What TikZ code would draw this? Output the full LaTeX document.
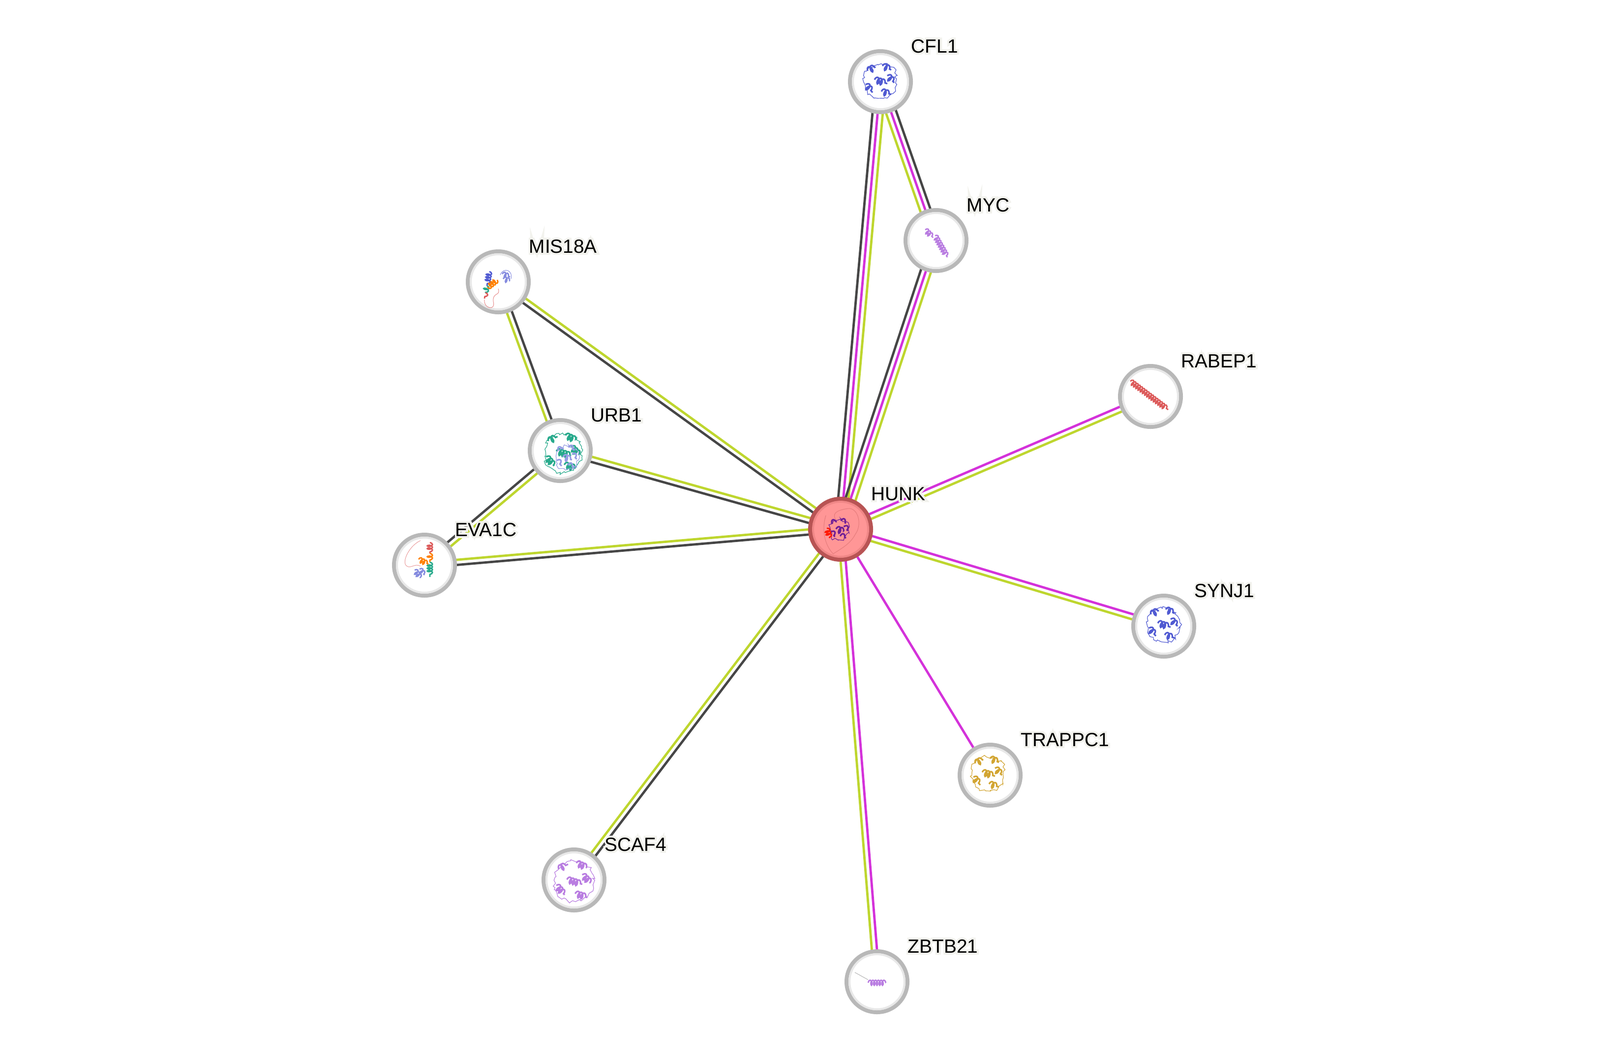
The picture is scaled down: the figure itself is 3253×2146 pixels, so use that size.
\documentclass[tikz,border=0pt]{standalone}
\usepackage{fontspec}
\setmainfont{Liberation Sans}
\newfontfamily\halofont[FakeBold=20]{Liberation Sans}
\usetikzlibrary{calc,decorations.pathmorphing}
\definecolor{cdark}{RGB}{70,70,70}
\definecolor{cgreen}{RGB}{190,214,46}
\definecolor{cmag}{RGB}{212,50,218}
\definecolor{ringgray}{RGB}{184,184,184}
\definecolor{shadowgray}{RGB}{232,232,232}
\definecolor{halo}{RGB}{242,242,237}
\definecolor{hunkfill}{RGB}{255,150,150}
\definecolor{hunkring}{RGB}{184,84,84}
\definecolor{hunkshadow}{RGB}{240,135,135}
\definecolor{pblue}{RGB}{80,90,210}
\definecolor{pgold}{RGB}{210,165,50}
\definecolor{plil}{RGB}{185,125,225}
\definecolor{pteal}{RGB}{40,170,140}
\definecolor{pred}{RGB}{220,90,90}
\definecolor{pviolet}{RGB}{110,30,150}
\pgfdeclarelayer{back}
\pgfdeclarelayer{edges}
\pgfsetlayers{back,edges,main}
\tikzset{
  prot/.style={circle, draw=ringgray, line width=2pt, fill=white, minimum size=31pt, inner sep=0pt},
  hub/.style={circle, draw=hunkring, line width=2.5pt, fill=hunkfill, minimum size=30.5pt, inner sep=0pt},
  lab/.style={font=\fontsize{9.7}{11}\selectfont, inner sep=0pt, anchor=base west},
  halolab/.style={font=\halofont\fontsize{9.7}{11}\selectfont, text=halo, inner sep=0pt, anchor=base west},
  edgeline/.style={line width=1.2pt},
  thread/.style={line width=0.25pt},
  coilhelix/.style={line width=0.7pt, decorate, decoration={coil, segment length=1.4pt, amplitude=1.3pt}},
}
\newcommand\lnk[4]{\draw[edgeline,#4] ($(#1.center)!#3!90:(#2.center)$) -- ($(#2.center)!#3!-90:(#1.center)$);}
\newcommand\glab[2]{%
  \node[halolab] (#1halo) at ($(#1.center)+(62,-59)$) {#2};
  \node[lab] (#1lab) at ($(#1.center)+(62,-59)$) {#2};}
% blob: node, colour, size factor, dx, dy  (coordinates multiplied, no scaling transform)
\newcommand\blob[5]{%
  \begin{scope}[shift={($(#1.center)+(#4,#5)$)}]
    \draw[#2, line width=0.3pt, decorate, decoration={random steps, segment length=1.2pt, amplitude=0.9pt}]
      (-32*#3,-8*#3) .. controls (-30*#3,-42*#3) and (25*#3,-45*#3) .. (32*#3,-12*#3)
      .. controls (38*#3,18*#3) and (15*#3,38*#3) .. (-5*#3,33*#3)
      .. controls (-28*#3,30*#3) and (-36*#3,12*#3) .. (-32*#3,-8*#3);
    \foreach \pa/\pb/\pc/\pd in {-26/-22/-10/-30, 4/-32/22/-24, -30/6/-16/22, 2/20/22/26, -12/-4/14/4, 14/-12/28/2}
      \draw[#2, line width=0.8pt, decorate, decoration={coil, segment length=1.6pt, amplitude=1.6pt}] (\pa*#3,\pb*#3) -- (\pc*#3,\pd*#3);
  \end{scope}}
\newcommand\helix[6]{\draw[#2, coilhelix] ($(#1.center)+(#3,#4)$) -- ($(#1.center)+(#5,#6)$);}
\newcommand\shadowring[2]{\draw[#2, line width=1pt] (#1.center) circle (56);}

\begin{document}
\begin{tikzpicture}[x=0.25pt,y=-0.25pt]
\begin{pgfonlayer}{back}
  \fill[white] (0,0) rectangle (3253,2146);
\end{pgfonlayer}
\useasboundingbox (0,0) rectangle (3253,2146);

% nodes
\node[hub]  (HUNK)    at (1709,1076) {};
\node[prot] (CFL1)    at (1790,166)  {};
\node[prot] (MYC)     at (1903,489)  {};
\node[prot] (MIS18A)  at (1013,573)  {};
\node[prot] (RABEP1)  at (2339,806)  {};
\node[prot] (URB1)    at (1139,916)  {};
\node[prot] (EVA1C)   at (863,1149)  {};
\node[prot] (SYNJ1)   at (2366,1273) {};
\node[prot] (TRAPPC1) at (2013,1576) {};
\node[prot] (SCAF4)   at (1167,1789) {};
\node[prot] (ZBTB21)  at (1783,1996) {};

% edges
\begin{pgfonlayer}{edges}
  \lnk{HUNK}{CFL1}{2.6pt}{cdark}
  \lnk{HUNK}{CFL1}{0pt}{cmag}
  \lnk{HUNK}{CFL1}{-2.6pt}{cgreen}
  \lnk{HUNK}{MYC}{2.6pt}{cdark}
  \lnk{HUNK}{MYC}{0pt}{cmag}
  \lnk{HUNK}{MYC}{-2.6pt}{cgreen}
  \lnk{CFL1}{MYC}{2.6pt}{cdark}
  \lnk{CFL1}{MYC}{0pt}{cmag}
  \lnk{CFL1}{MYC}{-2.6pt}{cgreen}
  \lnk{MIS18A}{HUNK}{1.3pt}{cgreen}
  \lnk{MIS18A}{HUNK}{-1.3pt}{cdark}
  \lnk{MIS18A}{URB1}{1.3pt}{cdark}
  \lnk{MIS18A}{URB1}{-1.3pt}{cgreen}
  \lnk{URB1}{HUNK}{1.3pt}{cgreen}
  \lnk{URB1}{HUNK}{-1.3pt}{cdark}
  \lnk{URB1}{EVA1C}{1.3pt}{cgreen}
  \lnk{URB1}{EVA1C}{-1.3pt}{cdark}
  \lnk{EVA1C}{HUNK}{1.3pt}{cgreen}
  \lnk{EVA1C}{HUNK}{-1.3pt}{cdark}
  \lnk{HUNK}{RABEP1}{1.3pt}{cmag}
  \lnk{HUNK}{RABEP1}{-1.3pt}{cgreen}
  \lnk{HUNK}{SYNJ1}{1.3pt}{cmag}
  \lnk{HUNK}{SYNJ1}{-1.3pt}{cgreen}
  \lnk{HUNK}{TRAPPC1}{0pt}{cmag}
  \lnk{HUNK}{SCAF4}{1.3pt}{cdark}
  \lnk{HUNK}{SCAF4}{-1.3pt}{cgreen}
  \lnk{HUNK}{ZBTB21}{1.3pt}{cmag}
  \lnk{HUNK}{ZBTB21}{-1.3pt}{cgreen}
\end{pgfonlayer}

% inner soft shadows of the rings
\foreach \n in {CFL1,MYC,MIS18A,RABEP1,URB1,EVA1C,SYNJ1,TRAPPC1,SCAF4,ZBTB21}{\shadowring{\n}{shadowgray}}
\shadowring{HUNK}{hunkshadow}

% structure pictures inside the nodes
\blob{CFL1}{pblue}{1}{0}{0}
\blob{SYNJ1}{pblue}{1}{0}{-2}
\blob{TRAPPC1}{pgold}{1}{-4}{-2}
\blob{SCAF4}{plil}{1.2}{0}{4}
\blob{URB1}{pteal}{1.15}{6}{6}
\blob{URB1}{pblue!60}{0.7}{14}{16}
\helix{MYC}{plil}{-2}{-10}{23}{34}
\helix{MYC}{plil}{-22}{-22}{-6}{-6}
\helix{RABEP1}{pred}{-41}{-31}{36}{27}
\draw[gray!60, thread] ($(ZBTB21.center)+(-45,-19)$) -- ($(ZBTB21.center)+(-18,-4)$);
\helix{ZBTB21}{plil}{-18}{2}{18}{2}
\helix{MIS18A}{pblue}{-18}{-21}{-23}{8}
\helix{MIS18A}{pteal}{-23}{8}{-26}{22}
\helix{MIS18A}{pred}{-26}{22}{-28}{34}
\helix{MIS18A}{orange}{-2}{-4}{-22}{12}
\helix{MIS18A}{pblue!70}{8}{-16}{24}{-10}
\helix{MIS18A}{pblue!70}{10}{-6}{24}{-2}
\draw[pblue!70, thread] ($(MIS18A.center)+(4,-14)$) .. controls ($(MIS18A.center)+(10,-30)$) and ($(MIS18A.center)+(30,-25)$) .. ($(MIS18A.center)+(26,-6)$);
\draw[pred!70, thread] ($(MIS18A.center)+(-28,36)$) .. controls ($(MIS18A.center)+(-30,55)$) and ($(MIS18A.center)+(-5,60)$) .. ($(MIS18A.center)+(-10,40)$) .. controls ($(MIS18A.center)+(-12,20)$) and ($(MIS18A.center)+(5,30)$) .. ($(MIS18A.center)+(0,14)$);
\helix{EVA1C}{pred}{11}{-46}{11}{-24}
\helix{EVA1C}{orange}{11}{-24}{11}{-6}
\helix{EVA1C}{pteal}{11}{-6}{11}{24}
\helix{EVA1C}{orange}{-12}{-12}{8}{-2}
\helix{EVA1C}{pblue!70}{-20}{10}{-8}{26}
\helix{EVA1C}{pblue!70}{-10}{8}{0}{20}
\draw[pred!60, thread] ($(EVA1C.center)+(-8,-50)$) .. controls ($(EVA1C.center)+(-30,-40)$) and ($(EVA1C.center)+(-45,-10)$) .. ($(EVA1C.center)+(-38,0)$) .. controls ($(EVA1C.center)+(-30,10)$) and ($(EVA1C.center)+(-20,-5)$) .. ($(EVA1C.center)+(-8,2)$);
\draw[pred!80, thread] ($(HUNK.center)+(-30,-28)$) .. controls ($(HUNK.center)+(-40,5)$) and ($(HUNK.center)+(-30,35)$) .. ($(HUNK.center)+(-15,50)$) .. controls ($(HUNK.center)+(0,40)$) and ($(HUNK.center)+(20,30)$) .. ($(HUNK.center)+(30,10)$) .. controls ($(HUNK.center)+(45,-10)$) and ($(HUNK.center)+(35,-45)$) .. ($(HUNK.center)+(15,-42)$) .. controls ($(HUNK.center)+(0,-40)$) and ($(HUNK.center)+(-20,-35)$) .. ($(HUNK.center)+(-10,-20)$);
\blob{HUNK}{pviolet}{0.6}{-2}{2}
\helix{HUNK}{red!80!orange}{-28}{-2}{-22}{18}

% labels
\glab{CFL1}{CFL1}
\glab{MYC}{MYC}
\glab{MIS18A}{MIS18A}
\glab{RABEP1}{RABEP1}
\glab{URB1}{URB1}
\glab{HUNK}{HUNK}
\glab{EVA1C}{EVA1C}
\glab{SYNJ1}{SYNJ1}
\glab{TRAPPC1}{TRAPPC1}
\glab{SCAF4}{SCAF4}
\glab{ZBTB21}{ZBTB21}
\end{tikzpicture}
\end{document}
